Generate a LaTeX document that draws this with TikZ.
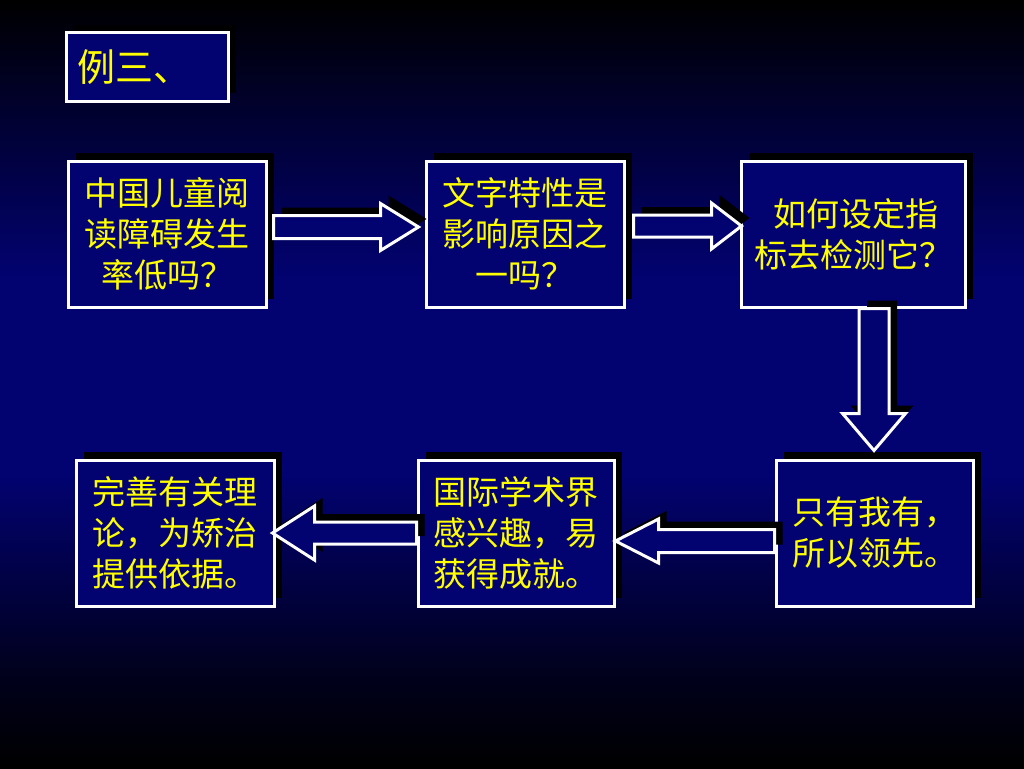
\documentclass[tikz,border=0pt]{standalone}
\usepackage{fontspec}
\newfontfamily\cjk{Noto Sans CJK SC}
\usetikzlibrary{calc,shadows}
\definecolor{navy}{RGB}{2,2,112}
\definecolor{txtyellow}{RGB}{255,255,0}
% the path spans 25bp (bottom) to 75bp (top)
\pgfdeclareverticalshading{bgshade}{100bp}{color(0bp)=(black); color(25bp)=(black); color(31bp)=(navy!25!black); color(44bp)=(navy); color(57bp)=(navy); color(69bp)=(navy!35!black); color(75bp)=(black); color(100bp)=(black)}
\tikzset{
  box/.style={draw=white, line width=3pt, fill=navy, inner sep=0pt,
    minimum width=198pt, minimum height=146pt, align=center,
    text=txtyellow, font=\cjk\fontsize{33}{41}\selectfont,
    general shadow={fill=black, shadow xshift=8pt, shadow yshift=8pt}},
  barrow/.style={draw=white, line width=3pt, fill=navy, line join=miter},
  barrowshadow/.style={fill=black, transform canvas={shift={(8pt,8pt)}}}
}
% block arrow: #1 start, #2 tip, #3 head length, #4 shaft half width, #5 head half width
\newcommand\blockarrow[5]{%
  \coordinate (hb) at ($(#2)!#3!(#1)$);
  \foreach \sty in {barrowshadow,barrow}{%
  \path[\sty] ($(#1)!#4!90:(#2)$) -- ($(hb)!#4!-90:(#1)$) -- ($(hb)!#5!-90:(#1)$) -- (#2)
     -- ($(hb)!#5!90:(#1)$) -- ($(hb)!#4!90:(#1)$) -- ($(#1)!#4!-90:(#2)$) -- cycle;}
}
\begin{document}
\begin{tikzpicture}[x=1pt,y=-1pt]
\shade[shading=bgshade] (0,0) rectangle (1024,768);
\useasboundingbox (0,0) rectangle (1024,768);

\node[box, minimum width=162pt, minimum height=68pt, text width=140pt, align=left,
  font=\cjk\fontsize{38}{44}\selectfont] (title) at (147,67) {例三、};

\node[box] (b1) at (167,234) {中国儿童阅\\读障碍发生\\率低吗？};
\node[box] (b2) at (525,234) {文字特性是\\影响原因之\\一吗？};
\node[box, minimum width=224pt] (b3) at (853,234) {\,如何设定指\\标去检测它？};
\node[box, minimum width=197pt] (b4) at (874.5,533) {只有我有，\\所以领先。};
\node[box, minimum width=196pt] (b5) at (516,533) {国际学术界\\感兴趣，易\\获得成就。};
\node[box] (b6) at (175,533) {完善有关理\\论，为矫治\\提供依据。};

% connectors
\coordinate (a1s) at ($(b1.east)+(6,-7)$);
\coordinate (a1e) at ($(b2.west)+(-6,-7)$);
\blockarrow{a1s}{a1e}{38pt}{11.5pt}{23.5pt}

\coordinate (a2s) at ($(b2.east)+(8,-8)$);
\coordinate (a2e) at ($(b3.west)+(2,-8)$);
\blockarrow{a2s}{a2e}{30pt}{11pt}{23pt}

\coordinate (a3s) at ($(b3.south)+(21,0)$);
\coordinate (a3e) at ($(b4.north)+(-0.5,-8)$);
\blockarrow{a3s}{a3e}{37pt}{15pt}{31.5pt}

\coordinate (a4s) at ($(b4.west)+(0,8)$);
\coordinate (a4e) at ($(b5.east)+(0,8)$);
\blockarrow{a4s}{a4e}{43pt}{11.5pt}{22pt}

\coordinate (a5s) at ($(b5.west)+(0,0)$);
\coordinate (a5e) at ($(b6.east)+(-3,0)$);
\blockarrow{a5s}{a5e}{42pt}{11pt}{27pt}
\end{tikzpicture}
\end{document}
